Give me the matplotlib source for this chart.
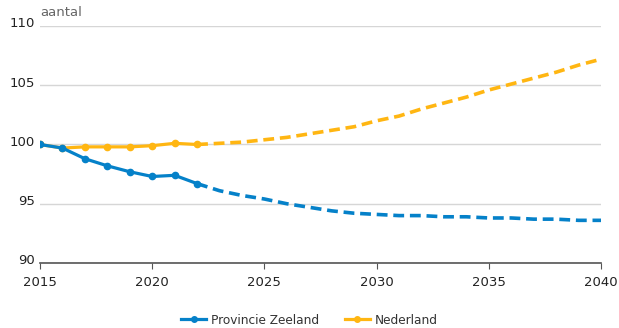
import matplotlib.pyplot as plt
from matplotlib.lines import Line2D
from matplotlib.transforms import ScaledTranslation

jaren = list(range(2015, 2041))
zeeland = [100.0, 99.7, 98.8, 98.2, 97.7, 97.3, 97.4, 96.7,
           96.1, 95.7, 95.4, 95.0, 94.7, 94.4, 94.2, 94.1, 94.0, 94.0,
           93.9, 93.9, 93.8, 93.8, 93.7, 93.7, 93.6, 93.6]
nederland = [100.0, 99.7, 99.8, 99.8, 99.8, 99.9, 100.1, 100.0,
             100.1, 100.2, 100.4, 100.6, 100.9, 101.2, 101.5, 102.0, 102.4, 103.0,
             103.5, 104.0, 104.6, 105.1, 105.6, 106.1, 106.7, 107.2]
laatste_waarneming = 2022
xticks = [2015, 2020, 2025, 2030, 2035, 2040]
yticks = [90, 95, 100, 105, 110]

blauw = '#0581c9'
geel = '#ffb612'

fig = plt.figure(figsize=(6.19, 3.28), dpi=100)
ax = fig.add_axes([40/619, 1-263/328, 561/619, 237/328])

k = jaren.index(laatste_waarneming)
for reeks, kleur in [(nederland, geel), (zeeland, blauw)]:
    ax.plot(jaren[:k+1], reeks[:k+1], color=kleur, lw=2.3, marker='o', ms=4.5,
            solid_capstyle='round')
    ax.plot(jaren[k:], reeks[k:], color=kleur, lw=2.6, ls=(0, (3, 1.6)))

ax.set_xlim(2015, 2040)
ax.set_ylim(90, 110)
ax.set_xticks(xticks)
ax.set_yticks(yticks)
ax.grid(axis='y', color='#d6d6d6', lw=1)
ax.set_axisbelow(True)
for s in ['top', 'right', 'left']:
    ax.spines[s].set_visible(False)
ax.spines['bottom'].set_color('#555555')
ax.spines['bottom'].set_linewidth(1.2)
ax.tick_params(axis='y', length=0, labelsize=9.5, colors='#222222', pad=3.6)
ax.tick_params(axis='x', length=4, color='#555555', labelsize=9.5,
               colors='#222222', pad=5)
omhoog = ScaledTranslation(0, 2/100, fig.dpi_scale_trans)
for lbl in ax.get_yticklabels():
    lbl.set_verticalalignment('center')
    lbl.set_transform(lbl.get_transform() + omhoog)

fig.text(40/619, 1-12/328, 'aantal', color='#666666', fontsize=9.5, va='center')

handles = [Line2D([], [], color=blauw, lw=2.3, marker='o', ms=4),
           Line2D([], [], color=geel, lw=2.3, marker='o', ms=4)]
fig.legend(handles, ['Provincie Zeeland', 'Nederland'], loc='center',
           bbox_to_anchor=(0.5, 1-320/328), ncol=2, frameon=False,
           fontsize=8.7, handlelength=2.1, handletextpad=0.4,
           columnspacing=2.1, labelcolor='#333333')

fig.savefig('out.png', dpi=100)
